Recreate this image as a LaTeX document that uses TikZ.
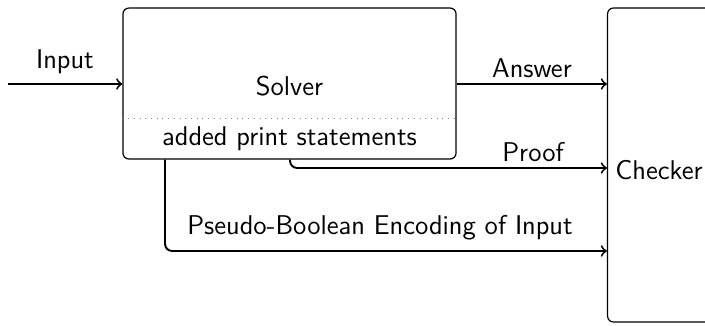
\documentclass[tikz,border=0pt]{standalone}
\begin{document}
\begin{tikzpicture}[x=0.42pt,y=-0.42pt, font=\sffamily\fontsize{11.4pt}{13.5pt}\selectfont,
  box/.style={draw, rounded corners=2.5pt, line width=0.5pt, inner sep=0pt},
  conn/.style={->, line width=0.8pt, rounded corners=3pt},
  lbl/.style={inner sep=0pt}]
\useasboundingbox (0,0) rectangle (705,325);
\node[box, minimum width=139.9pt, minimum height=63.4pt] (solver) at (289.5,83.5) {};
\node[lbl] (solvertxt) at (289.5,86) {Solver};
\node[lbl] (added) at (289.5,139) {added print statements};
\coordinate (dl) at (0,118);
\draw[dotted, line width=0.4pt, gray] (solver.west |- dl) -- (solver.east |- dl);
\node[box, minimum width=60pt, minimum height=131.9pt] (checker) at (679,165) {};
\node[lbl, anchor=west] (checkertxt) at (615,170) {Checker};
\coordinate (in) at (8,84);
\coordinate (pf) at (290,168);
\coordinate (pb) at (165,251);
\draw[conn] (in) -- (solver.west |- in);
\draw[conn] (solver.east |- in) -- (checker.west |- in);
\draw[conn] (solver.south -| pf) |- (checker.west |- pf);
\draw[conn] (solver.south -| pb) |- (checker.west |- pb);
\node[lbl] (inlbl) at (65,62) {Input};
\node[lbl] (anslbl) at (532,68) {Answer};
\node[lbl] (pflbl) at (533,152) {Proof};
\node[lbl] (pblbl) at (380,228) {Pseudo-Boolean Encoding of Input};
\end{tikzpicture}
\end{document}
